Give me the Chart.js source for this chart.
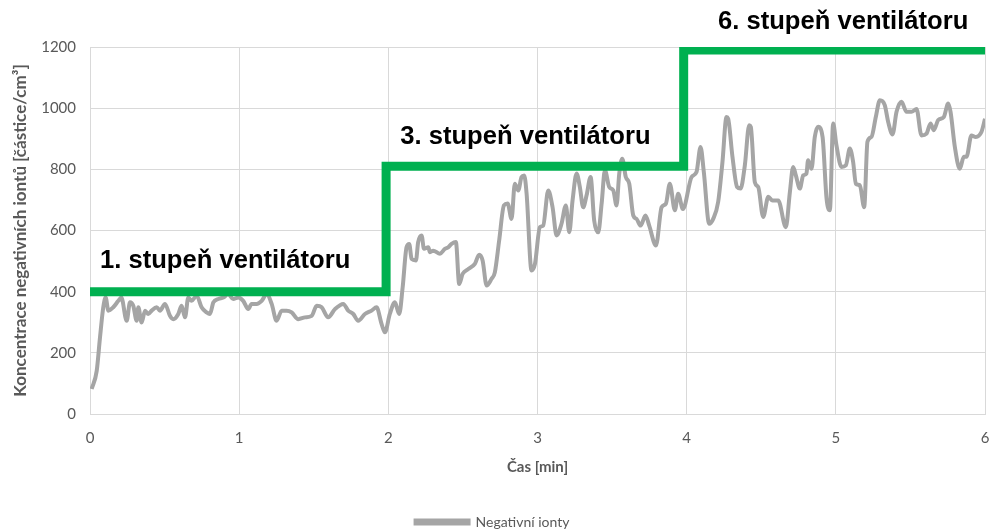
<!DOCTYPE html>
<html>
<head>
<meta charset="utf-8">
<script src="https://cdn.jsdelivr.net/npm/chart.js@4"></script>
<style>
  body { margin: 0; background: #fff; }
</style>
</head>
<body>
<canvas id="graf" width="989" height="532"></canvas>
<script>
// cas v minutach a namerena koncentrace
var casMin = [0.011, 0.045, 0.067, 0.089, 0.105, 0.123, 0.156, 0.19, 0.21, 0.246, 0.268, 0.29, 0.313, 0.324, 0.346, 0.369, 0.391, 0.413, 0.447, 0.469, 0.503, 0.536, 0.558, 0.592, 0.614, 0.637, 0.659, 0.681, 0.715, 0.748, 0.782, 0.804, 0.827, 0.86, 0.894, 0.927, 0.96, 0.994, 1.027, 1.061, 1.083, 1.117, 1.151, 1.184, 1.218, 1.251, 1.285, 1.318, 1.352, 1.396, 1.441, 1.486, 1.52, 1.553, 1.597, 1.642, 1.698, 1.731, 1.765, 1.798, 1.843, 1.888, 1.921, 1.955, 1.977,
  2.01, 2.044, 2.073, 2.096, 2.122, 2.14, 2.156, 2.185, 2.2, 2.223, 2.239, 2.268, 2.279, 2.301, 2.346, 2.379, 2.401, 2.424, 2.453, 2.475, 2.498, 2.536, 2.58, 2.609, 2.632, 2.659, 2.692, 2.714, 2.743, 2.775, 2.8, 2.826, 2.848, 2.871, 2.893, 2.911, 2.927, 2.96, 2.983,
  3.016, 3.038, 3.072, 3.101, 3.128, 3.161, 3.19, 3.213, 3.235, 3.262, 3.284, 3.306, 3.329, 3.356, 3.38, 3.407, 3.43, 3.452, 3.481, 3.508, 3.53, 3.548, 3.568, 3.592, 3.615, 3.642, 3.664, 3.691, 3.724, 3.749, 3.794, 3.832, 3.861, 3.887, 3.921, 3.943, 3.975,
  4.033, 4.066, 4.093, 4.115, 4.151, 4.178, 4.211, 4.24, 4.267, 4.278, 4.307, 4.338, 4.361, 4.39, 4.419, 4.43, 4.457, 4.48, 4.513, 4.547, 4.576, 4.614, 4.665, 4.692, 4.714, 4.732, 4.759, 4.781, 4.803, 4.814, 4.837, 4.859, 4.881, 4.911, 4.938, 4.96, 4.982,
  5.004, 5.038, 5.067, 5.094, 5.116, 5.134, 5.161, 5.19, 5.212, 5.239, 5.268, 5.295, 5.328, 5.351, 5.38, 5.407, 5.44, 5.474, 5.507, 5.541, 5.574, 5.608, 5.635, 5.657, 5.686, 5.724, 5.753, 5.769, 5.798, 5.831, 5.858, 5.876, 5.909, 5.938, 5.976, 6.0];
var negIonty = [82, 141, 250, 349, 381, 338, 349, 370, 381, 305, 365, 354, 305, 349, 299, 338, 327, 338, 349, 338, 360, 321, 310, 327, 354, 316, 381, 370, 387, 349, 332, 327, 365, 376, 381, 392, 376, 381, 370, 343, 360, 360, 370, 392, 360, 305, 338, 338, 332, 310, 316, 321, 354, 349, 316, 343, 360, 338, 327, 305, 327, 338, 349, 294, 267,
  327, 365, 327, 414, 545, 556, 507, 502, 562, 584, 540, 545, 529, 534, 524, 540, 545, 556, 562, 425, 458, 474, 491, 521, 502, 420, 442, 463, 567, 682, 688, 638, 753, 731, 775, 780, 720, 469, 491,
  611, 616, 731, 676, 584, 622, 682, 594, 698, 786, 742, 676, 715, 775, 633, 594, 688, 797, 742, 731, 682, 786, 835, 775, 753, 649, 638, 616, 649, 616, 551, 676, 688, 753, 666, 720, 670,
  775, 791, 873, 791, 622, 638, 693, 824, 971, 966, 841, 742, 737, 813, 944, 939, 758, 742, 644, 710, 698, 698, 611, 726, 808, 780, 737, 780, 786, 830, 802, 906, 939, 906, 704, 666, 950,
  879, 808, 813, 868, 824, 753, 748, 676, 890, 906, 971, 1026, 1010, 955, 914, 988, 1021, 988, 988, 997, 911, 917, 950, 928, 961, 971, 1015, 988, 873, 802, 841, 841, 911, 906, 922, 965];

// stupne ventilatoru (schodovita cara)
var stupenCas = [0, 1.985, 1.985, 3.98, 3.98, 6];
var stupenHodnota = [400, 400, 810, 810, 1190, 1190];
var stupenPopisky = ["1. stupeň ventilátoru", "3. stupeň ventilátoru", "6. stupeň ventilátoru"];

var popisekX = [0.067, 2.08, 4.21];
var popisekY = [502, 905, 1282];

var sedaBarva = "#595959";

var bodyIonty = casMin.map(function (c, i) { return { x: c, y: negIonty[i] }; });
var bodyStupen = stupenCas.map(function (c, i) { return { x: c, y: stupenHodnota[i] }; });

// texty ke stupnum
var popiskyPlugin = {
  id: "popisky",
  afterDatasetsDraw: function (chart) {
    var ctx = chart.ctx;
    var sx = chart.scales.x, sy = chart.scales.y;
    ctx.save();
    ctx.font = "bold 25.6px 'Liberation Sans', Arial, sans-serif";
    ctx.fillStyle = "#000";
    ctx.textAlign = "left";
    ctx.textBaseline = "middle";
    stupenPopisky.forEach(function (t, i) {
      ctx.fillText(t, sx.getPixelForValue(popisekX[i]), sy.getPixelForValue(popisekY[i]));
    });
    ctx.restore();
  }
};

new Chart(document.getElementById("graf"), {
  type: "line",
  data: {
    datasets: [
      {
        label: "stupen",
        data: bodyStupen,
        borderColor: "#00B050",
        borderWidth: 9,
        pointRadius: 0,
        tension: 0,
        order: 0,
      },
      {
        label: "Negativní ionty",
        data: bodyIonty,
        borderColor: "#A5A5A5",
        backgroundColor: "#A5A5A5",
        borderWidth: 4,
        pointRadius: 0,
        cubicInterpolationMode: "monotone",
        order: 1,
      },
    ],
  },
  options: {
    responsive: false,
    animation: false,
    layout: { padding: { left: 0, right: 4, top: 47, bottom: -7 } },
    plugins: {
      tooltip: { enabled: false },
      legend: {
        position: "bottom",
        labels: {
          filter: function (item) { return item.text !== "stupen"; },
          boxWidth: 53,
          boxHeight: 3,
          padding: 2,
          color: sedaBarva,
          font: { family: "Lato", size: 14 },
        },
      },
    },
    scales: {
      x: {
        type: "linear",
        min: 0,
        max: 6,
        ticks: { stepSize: 1, color: sedaBarva, padding: 15, font: { family: "Lato", size: 15 } },
        grid: { color: "#D9D9D9", lineWidth: 1, drawTicks: false },
        border: { color: "#D9D9D9" },
        title: { display: true, text: "Čas [min]", color: sedaBarva, padding: { top: 8, bottom: 37 }, font: { family: "Lato", size: 15, weight: "bold" } },
        afterFit: function (s) { s.height = 99; s.paddingRight = 0; },
      },
      y: {
        min: 0,
        max: 1200,
        ticks: {
          stepSize: 200, color: sedaBarva, padding: 14, font: { family: "Lato", size: 15 },
          callback: function (v) { return String(v); },
        },
        grid: { color: "#D9D9D9", lineWidth: 1, drawTicks: false },
        border: { display: false },
        title: { display: true, text: "Koncentrace negativních iontů [částice/cm³]", color: sedaBarva, padding: { top: 10, bottom: 4 }, font: { family: "Lato", size: 17, weight: "bold" } },
        afterFit: function (s) { s.width = 90; },
      },
    },
  },
  plugins: [popiskyPlugin],
});
</script>
</body>
</html>
